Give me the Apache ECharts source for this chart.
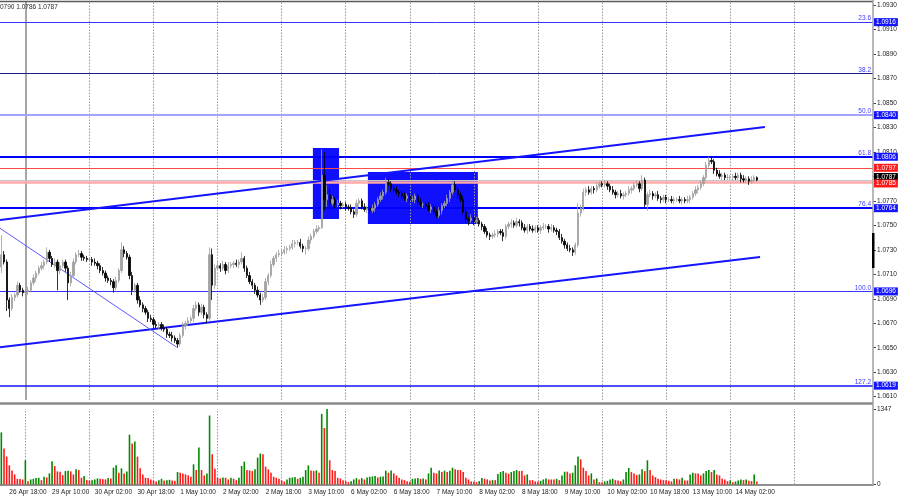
<!DOCTYPE html>
<html><head><meta charset="utf-8">
<script src="https://cdn.jsdelivr.net/npm/echarts@6/dist/echarts.min.js"></script>
<style>html,body{margin:0;padding:0;background:#fff}#c{width:900px;height:500px}</style>
</head><body><div id="c"></div>
<script>
// ---- data (EURUSD H1, 26 Apr 15:00 .. 14 May 10:00) ----
const firstOpen = 1.0716;
const closes = [
1.0726,1.0720,1.0689,1.0682,1.0691,1.0693,1.0701,1.0697,1.0695,
1.0696,1.0697,1.0703,1.0707,1.0711,1.0715,1.0717,1.0720,1.0728,1.0723,1.0718,1.0720,1.0713,1.0717,1.0720,1.0715,1.0703,1.0709,1.0720,1.0726,1.0727,1.0724,1.0723,1.0722,
1.0722,1.0720,1.0719,1.0717,1.0713,1.0711,1.0707,1.0705,1.0704,1.0699,1.0705,1.0713,1.0730,1.0727,1.0724,1.0709,1.0697,1.0701,1.0689,1.0685,1.0682,1.0679,1.0674,1.0673,
1.0669,1.0668,1.0669,1.0666,1.0665,1.0661,1.0660,1.0658,1.0656,1.0653,1.0660,1.0668,1.0670,1.0672,1.0674,1.0682,1.0685,1.0679,1.0683,1.0677,1.0674,1.0726,1.0701,1.0715,
1.0717,1.0715,1.0718,1.0713,1.0717,1.0718,1.0719,1.0718,1.0720,1.0723,1.0715,1.0709,1.0704,1.0701,1.0697,1.0693,1.0689,1.0691,1.0704,1.0709,1.0718,1.0723,1.0726,1.0727,
1.0728,1.0730,1.0731,1.0732,1.0735,1.0736,1.0736,1.0733,1.0731,1.0731,1.0738,1.0741,1.0745,1.0747,1.0748,1.0791,1.0771,1.0775,1.0768,1.0771,1.0767,1.0768,1.0766,1.0767,
1.0765,1.0764,1.0761,1.0759,1.0768,1.0770,1.0765,1.0763,1.0764,1.0762,1.0764,1.0767,1.0771,1.0774,1.0777,1.0785,1.0784,1.0780,1.0779,1.0777,1.0776,1.0774,1.0772,1.0774,
1.0771,1.0771,1.0774,1.0769,1.0767,1.0767,1.0766,1.0763,1.0765,1.0761,1.0758,1.0762,1.0766,1.0768,1.0772,1.0777,1.0783,1.0779,1.0775,1.0771,1.0761,1.0755,1.0754,1.0756,
1.0753,1.0754,1.0751,1.0749,1.0745,1.0742,1.0741,1.0742,1.0743,1.0745,1.0744,1.0741,1.0749,1.0751,1.0752,1.0750,1.0753,1.0752,1.0748,1.0746,1.0749,1.0747,1.0746,1.0748,
1.0746,1.0748,1.0749,1.0749,1.0747,1.0748,1.0746,1.0745,1.0740,1.0737,1.0734,1.0731,1.0730,1.0728,1.0734,1.0760,1.0764,1.0777,1.0779,1.0777,1.0780,1.0779,1.0782,1.0784,
1.0783,1.0784,1.0782,1.0779,1.0777,1.0775,1.0776,1.0774,1.0775,1.0776,1.0779,1.0780,1.0783,1.0784,1.0780,1.0787,1.0767,1.0775,1.0776,1.0774,1.0775,1.0772,1.0771,1.0773,
1.0771,1.0771,1.0770,1.0771,1.0771,1.0770,1.0771,1.0770,1.0771,1.0773,1.0776,1.0779,1.0781,1.0784,1.0789,1.0799,1.0803,1.0802,1.0795,1.0792,1.0790,1.0791,1.0789,1.0789,
1.0789,1.0790,1.0789,1.0791,1.0788,1.0787,1.0788,1.0786,1.0787,1.0789,1.0787
];
// wick lengths above/below the body, in pips
const upWick = [
16,3,2,2,3,2,3,2,2,
2,3,2,3,2,2,3,2,4,2,2,3,2,3,2,2,2,3,3,2,3,2,2,2,
2,2,3,2,2,3,2,2,2,2,3,2,6,3,2,2,3,2,2,3,2,2,2,3,
2,3,2,2,3,2,2,3,2,2,2,3,2,3,2,3,3,2,3,2,2,6,5,3,
3,2,3,2,3,2,2,3,2,5,2,2,3,2,2,3,2,3,3,2,3,2,2,3,
2,3,2,2,3,2,2,3,2,2,3,2,2,3,2,21,19,8,4,3,2,3,2,2,
2,2,3,2,3,2,2,3,2,2,3,2,2,3,2,4,3,2,2,3,2,2,3,2,
2,3,2,2,3,2,2,3,2,2,2,3,2,2,3,2,4,3,2,2,3,2,2,3,
2,3,2,2,2,3,2,2,3,2,2,3,2,2,3,2,3,2,2,3,2,2,3,2,
2,2,3,2,2,3,2,2,2,3,2,2,3,2,2,8,3,3,2,3,2,2,3,2,
2,3,2,2,3,2,2,3,2,2,3,2,2,3,2,4,2,2,3,2,2,3,2,2,
2,2,3,2,2,3,2,2,3,2,2,3,2,3,2,3,3,3,2,2,3,2,2,3,
2,2,3,2,2,3,2,2,3,2,1
];
const downWick = [
5,2,9,7,2,3,2,2,3,
4,3,2,2,3,2,2,3,2,3,2,3,16,3,2,3,14,3,2,2,2,3,2,2,
2,3,2,3,2,2,3,2,3,4,2,2,2,3,2,3,4,2,3,2,3,2,3,2,
3,2,3,2,2,3,2,3,2,3,2,2,3,2,2,3,2,3,2,3,4,2,12,3,
2,3,2,3,2,2,3,2,3,2,3,2,2,3,3,2,4,2,2,3,2,2,3,2,
2,2,3,2,2,3,2,2,3,5,2,3,2,2,2,1,9,6,3,2,3,2,3,2,
3,2,2,3,2,3,2,2,3,2,2,3,2,2,3,2,2,3,2,2,3,2,2,3,
2,2,3,2,2,3,2,2,3,2,2,2,3,2,2,3,2,2,3,2,2,3,4,2,
3,2,2,3,2,2,3,2,2,3,2,4,2,2,3,2,2,3,2,2,3,2,2,2,
2,3,2,2,3,2,2,3,2,2,3,2,2,3,2,2,3,2,3,2,2,3,2,2,
2,2,3,2,2,3,2,2,3,2,2,3,2,2,3,2,2,5,2,3,2,2,3,2,
3,2,2,3,2,2,3,2,2,3,2,2,3,2,2,2,2,2,3,2,2,3,2,2,
2,3,2,2,3,2,2,3,2,2,1
];
const volumes = [
930,642,498,342,252,180,102,96,90,
432,60,90,102,114,120,78,138,126,198,414,330,234,228,168,240,246,234,180,270,258,120,150,78,
72,78,90,108,102,96,90,114,108,300,342,210,288,198,234,888,732,768,498,288,180,120,114,90,
66,54,78,102,72,78,84,72,66,222,210,198,180,162,138,360,258,660,258,162,198,1230,540,282,
120,108,126,120,90,120,102,78,120,330,408,258,252,240,270,480,552,540,318,270,210,138,120,102,
72,54,90,120,126,132,102,120,138,258,342,252,240,252,210,1260,1008,1347,432,258,240,120,108,78,
60,42,60,90,114,90,114,90,126,138,144,150,126,138,144,246,210,252,198,162,120,90,78,60,
48,102,108,114,102,108,90,198,300,210,198,252,222,246,222,246,300,270,258,258,222,120,90,54,
54,42,60,114,102,90,72,78,78,186,222,240,210,192,222,240,258,240,240,162,180,78,78,54,
54,66,90,108,90,90,90,102,78,162,228,228,198,210,342,498,450,300,240,162,198,90,108,42,
42,54,66,90,102,78,72,60,90,222,294,222,198,168,180,270,240,432,258,162,132,102,90,78,
78,66,54,102,102,90,120,72,72,180,210,198,198,162,198,240,258,222,258,180,162,102,90,60,
72,42,54,72,90,78,90,66,60,180,54
];
const timeLabels = ['26 Apr 18:00','29 Apr 10:00','30 Apr 02:00','30 Apr 18:00','1 May 10:00','2 May 02:00','2 May 18:00','3 May 10:00','6 May 02:00','6 May 18:00','7 May 10:00','8 May 02:00','8 May 18:00','9 May 10:00','10 May 02:00','10 May 18:00','13 May 10:00','14 May 02:00'];
const firstLabelBar = 3, labelEvery = 16;
const dayStartBars = [9,33,57,81,105,129,153,177,201,225,249,273,297];
const markerBar = 9;
const priceTicks = [1.0930,1.0910,1.0890,1.0870,1.0850,1.0830,1.0810,1.0790,1.0770,1.0750,1.0730,1.0710,1.0690,1.0670,1.0650,1.0630,1.0610];
const fibPct = ['23.6','38.2','50.0','61.8','76.4','100.0','127.2'];
const fibPrice = [1.0916,1.0874,1.0840,1.0806,1.0764,1.0696,1.0619];
const fibTagged = [1.0916,1.0840,1.0806,1.0764,1.0696,1.0619];
const redLevel = 1.0797, pinkLevel = 1.0785;
const upperChannel = [[-0.5,1.07544],[286.0,1.08303]];
const lowerChannel = [[-0.5,1.06504],[284.2,1.07241]];
const downTrend = [[-0.5,1.07476],[65.7,1.06504]];
const zones = [[116.7,126.5,1.07552,1.08132],[137.3,178.5,1.07511,1.07936]];
const totalSlots = 327;
const priceMin = 1.060729, priceMax = 1.093245;

// ---- build ----
const pip = 0.0001;
const slots = Array.from({length: totalSlots}, (_, i) => String(i));
const candles = closes.map((c, i) => {
  const o = i === 0 ? firstOpen : closes[i - 1];
  const hi = Math.max(o, c) + upWick[i] * pip;
  const lo = Math.min(o, c) - downWick[i] * pip;
  return [o, c, +lo.toFixed(5), +hi.toFixed(5)];
});
const last = candles[candles.length - 1];
const bid = last[1];
const volMax = Math.max(...volumes);
const volData = volumes.map((v, i) => ({
  value: v,
  itemStyle: {color: (i === 0 || v > volumes[i - 1]) ? '#008a00' : '#ff1a1a'}
}));

const FONT = 'Liberation Sans';
const fibStyle = [
  {color:'#3636ff', width:1}, {color:'#1c1c88', width:1}, {color:'#a4a4ff', width:2},
  {color:'#0000ff', width:2}, {color:'#0000ff', width:2}, {color:'#3636ff', width:1}, {color:'#1414ff', width:1.5}
];
const levelData = [];
dayStartBars.forEach(b => {
  if (b === markerBar) return;
  levelData.push({xAxis: b, lineStyle: {color: '#9a9a9a', width: 1, type: [1.5, 1.5]}, label: {show: false}});
});
levelData.push({xAxis: markerBar, lineStyle: {color: '#a6a6a6', width: 2, type: 'solid'}, label: {show: false}});
fibPct.forEach((p, i) => {
  levelData.push({yAxis: fibPrice[i], lineStyle: Object.assign({type: 'solid'}, fibStyle[i]),
    label: {show: true, position: 'insideEndTop', formatter: p, color: '#3c3cff', fontSize: 6.5, fontFamily: FONT, distance: [2, 0]}});
});
levelData.push({yAxis: redLevel, lineStyle: {color: '#ff4a4a', width: 1, type: 'solid'}, label: {show: false}});
levelData.push({yAxis: bid, lineStyle: {color: '#c6c6c6', width: 1, type: 'solid'}, label: {show: false}});
levelData.push({yAxis: pinkLevel, lineStyle: {color: '#ffa8a8', width: 2.5, type: 'solid'}, label: {show: false}});

// price tags on the right scale
const tagData = [];
function tag(price, bg, offY) {
  return {yAxis: price, lineStyle: {color: 'rgba(0,0,0,0)', width: 1, type: 'solid'},
    label: {show: true, position: 'end', distance: 1, formatter: price.toFixed(4), color: '#fff',
      backgroundColor: bg, padding: [1, 2, 0, 2], lineHeight: 7, fontSize: 6.5, fontFamily: FONT, offset: [0, offY || 0]}};
}
fibTagged.forEach(p => tagData.push(tag(p, '#1414ff')));
tagData.push(tag(redLevel, '#ff1a1a'));
tagData.push(tag(bid, '#000000', -3));
tagData.push(tag(pinkLevel, '#ff1a1a', 1));

const volGrid = dayStartBars.map(b => ({xAxis: b, lineStyle: {color: '#9a9a9a', width: 1, type: [1.5, 1.5]}, label: {show: false}}));

const hdr = last[3].toFixed(4).slice(2) + ' ' + last[2].toFixed(4) + ' ' + last[1].toFixed(4);

const chart = echarts.init(document.getElementById('c'), null, {renderer: 'canvas'});
chart.setOption({
  animation: false,
  backgroundColor: '#ffffff',
  textStyle: {fontFamily: FONT},
  grid: [
    {left: 0, right: 27, top: 2, height: 398},
    {left: 0, right: 27, top: 409, height: 75.5}
  ],
  xAxis: [
    {type: 'category', gridIndex: 0, data: slots, boundaryGap: true,
      axisLine: {show: false, onZero: false}, axisTick: {show: false}, axisLabel: {show: false}, splitLine: {show: false}},
    {type: 'category', gridIndex: 1, data: slots, boundaryGap: true,
      axisLine: {show: true, onZero: false, lineStyle: {color: '#6e6e6e', width: 1.5}}, axisTick: {show: false},
      axisLabel: {
        interval: (idx) => idx >= firstLabelBar && (idx - firstLabelBar) % labelEvery === 0 && (idx - firstLabelBar) / labelEvery < timeLabels.length,
        formatter: (val, idx) => timeLabels[(idx - firstLabelBar) / labelEvery] || '',
        align: 'left', margin: 4, fontSize: 6.5, color: '#1e1e1e', fontFamily: FONT
      }, splitLine: {show: false}},
    {type: 'value', gridIndex: 0, min: -0.5, max: totalSlots - 0.5, show: false, axisLine: {onZero: false}}
  ],
  yAxis: [
    {type: 'value', gridIndex: 0, position: 'right', min: priceMin, max: priceMax,
      axisLine: {show: false, onZero: false},
      axisTick: {show: true, length: 3, customValues: priceTicks, lineStyle: {color: '#444'}},
      axisLabel: {show: true, customValues: priceTicks, formatter: v => v.toFixed(4), margin: 4, fontSize: 6.5, color: '#1e1e1e', fontFamily: FONT},
      splitLine: {show: false}},
    {type: 'value', gridIndex: 1, position: 'right', min: 0, max: volMax,
      axisLine: {show: false, onZero: false},
      axisTick: {show: true, length: 3, customValues: [0, volMax], lineStyle: {color: '#444'}},
      axisLabel: {show: true, customValues: [0, volMax], formatter: v => String(v), margin: 4, fontSize: 6.5, color: '#1e1e1e', fontFamily: FONT},
      splitLine: {show: false}}
  ],
  series: [
    {type: 'line', name: 'zones', xAxisIndex: 2, yAxisIndex: 0, data: [], silent: true, clip: false,
      markArea: {silent: true, z: 1, itemStyle: {color: '#1010ff'},
        data: zones.map(z => [{coord: [z[0], z[3]]}, {coord: [z[1], z[2]]}])}},
    {type: 'line', name: 'levels', xAxisIndex: 2, yAxisIndex: 0, data: [], silent: true, clip: false,
      markLine: {silent: true, z: 4, precision: 5, symbol: ['none', 'none'], animation: false, data: levelData}},
    {type: 'line', name: 'tags', xAxisIndex: 2, yAxisIndex: 0, data: [], silent: true, clip: false,
      markLine: {silent: true, z: 12, precision: 5, symbol: ['none', 'none'], animation: false, data: tagData}},
    {type: 'line', xAxisIndex: 2, yAxisIndex: 0, data: upperChannel, showSymbol: false, silent: true, z: 6,
      lineStyle: {color: '#1414ff', width: 2}},
    {type: 'line', xAxisIndex: 2, yAxisIndex: 0, data: lowerChannel, showSymbol: false, silent: true, z: 6,
      lineStyle: {color: '#1414ff', width: 2}},
    {type: 'line', xAxisIndex: 2, yAxisIndex: 0, data: downTrend, showSymbol: false, silent: true, z: 6,
      lineStyle: {color: '#5a5aff', width: 1}},
    {type: 'candlestick', name: 'EURUSD', xAxisIndex: 0, yAxisIndex: 0, data: candles, z: 10,
      barWidth: 1.8,
      itemStyle: {color: '#a0a0a0', color0: '#000000', borderColor: '#a0a0a0', borderColor0: '#000000', borderWidth: 0.8}},
    {type: 'line', name: 'volgrid', xAxisIndex: 1, yAxisIndex: 1, data: [], silent: true,
      markLine: {silent: true, z: 4, symbol: ['none', 'none'], animation: false, data: volGrid}},
    {type: 'bar', name: 'Volumes', xAxisIndex: 1, yAxisIndex: 1, data: volData, barWidth: 1.6, z: 10}
  ],
  graphic: [
    {type: 'line', shape: {x1: 0, y1: 1.5, x2: 873, y2: 1.5}, style: {stroke: '#5a5a5a', lineWidth: 1.5}, z: 20},
    {type: 'line', shape: {x1: 0, y1: 403.5, x2: 873, y2: 403.5}, style: {stroke: '#8a8a8a', lineWidth: 2.5}, z: 20},
    {type: 'line', shape: {x1: 873, y1: 0, x2: 873, y2: 486}, style: {stroke: '#a0a0a0', lineWidth: 1.5}, z: 20},
    {type: 'rect', shape: {x: 872, y: 233, width: 2.5, height: 35}, style: {fill: '#000'}, z: 21},
    {type: 'text', left: 0, top: 4, style: {text: hdr, fill: '#2a2a2a', fontSize: 6.5, fontFamily: FONT}, z: 20}
  ]
});
</script></body></html>
